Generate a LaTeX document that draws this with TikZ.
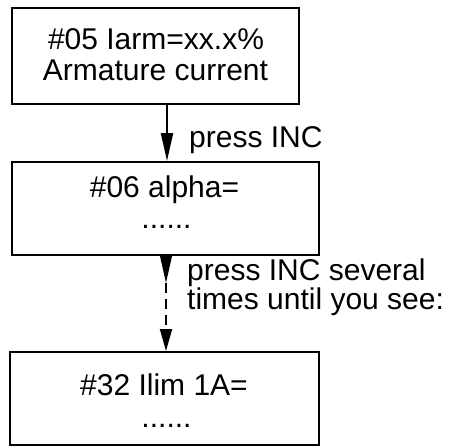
\documentclass[tikz,border=0pt]{standalone}
\usepackage{fontspec}
\setmainfont{Liberation Sans}
\usetikzlibrary{arrows.meta}

\tikzset{
  box/.style={draw, line width=2pt, inner sep=0pt},
  txt/.style={inner sep=0pt, font=\fontsize{30}{31}\selectfont},
  arr/.style={line width=2pt, -{Triangle[length=28pt,width=12pt]}},
  arrdash/.style={line width=2pt, dash pattern=on 10pt off 6pt,
                  -{Triangle[length=22pt,width=12pt]}}
}

\begin{document}
\begin{tikzpicture}[x=1pt,y=-1pt]
  \useasboundingbox (0,0) rectangle (455,447);

  % parameter boxes
  \node[box, minimum width=287pt, minimum height=96pt] (b1) at (155.5,56) {};
  \node[box, minimum width=307pt, minimum height=93pt] (b2) at (165.5,208.5) {};
  \node[box, minimum width=309pt, minimum height=93pt] (b3) at (164.5,398.5) {};

  % box texts
  \node[txt, anchor=base] (t1a) at (156,49) {\#05 Iarm=xx.x\%};
  \node[txt, anchor=base] (t1b) at (155.5,80) {Armature current};
  \node[txt, anchor=base] (t2a) at (164.5,197) {\#06 alpha=};
  \node[txt, anchor=base] (t2b) at (166.5,228) {......};
  \node[txt, anchor=base] (t3a) at (164,395) {\#32 Ilim 1A=};
  \node[txt, anchor=base] (t3b) at (166.5,427) {......};

  % connector column and the break point of the second connector
  \coordinate (ax) at (167,0);
  \coordinate (bx) at (166,0);
  \coordinate (mid) at (166,283);

  % connectors
  \draw[arr] (b1.south -| ax) -- (b2.north -| ax);
  \draw[arr] (b2.south -| bx) -- (mid);
  \draw[arrdash] (mid) -- (b3.north -| bx);

  % connector labels (base anchor of the two-line label is its last line)
  \node[txt, anchor=base west] (l1) at (189,147) {press INC};
  \node[txt, font=\fontsize{30}{27}\selectfont, align=left, anchor=base west]
    (l2) at (187,309) {press INC several\\times until you see:};
\end{tikzpicture}
\end{document}
